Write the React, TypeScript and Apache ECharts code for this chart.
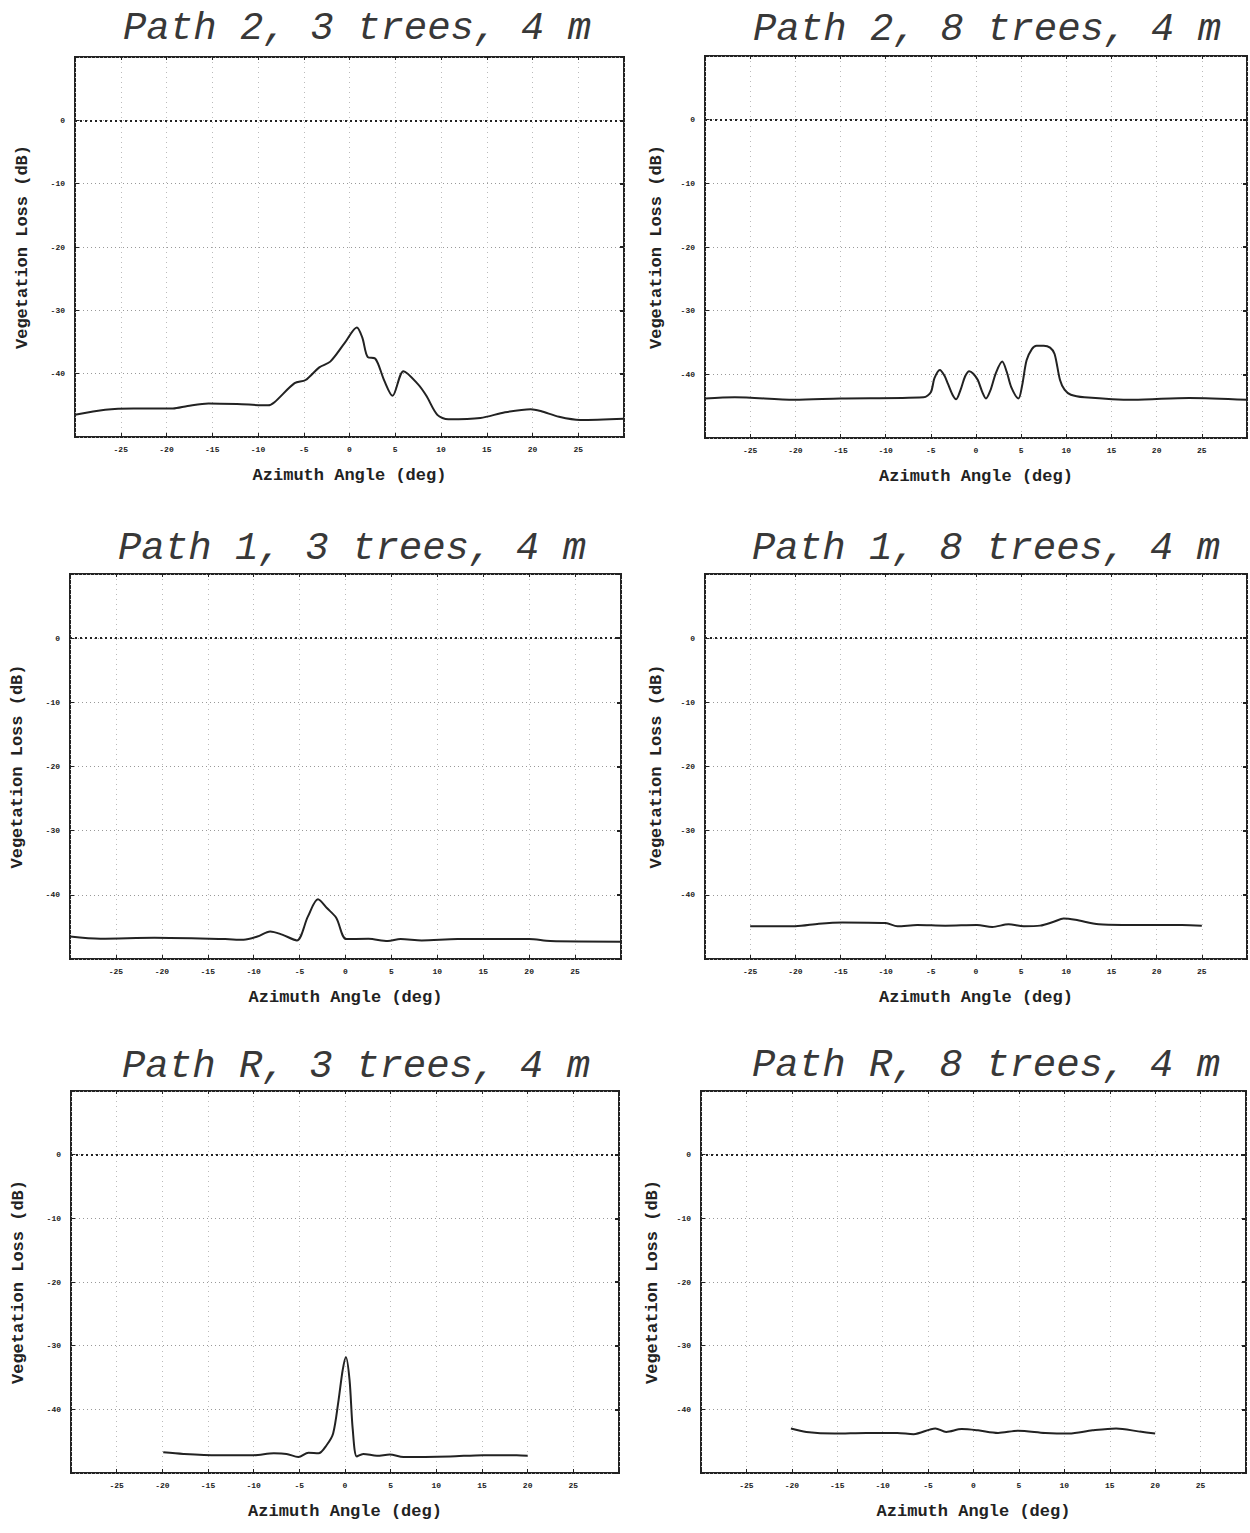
import { useEffect, useRef } from "react";
import * as echarts from "echarts";

// ---- Titles ----
const titles = [
  "Path 2, 3 trees, 4 m",
  "Path 2, 8 trees, 4 m",
  "Path 1, 3 trees, 4 m",
  "Path 1, 8 trees, 4 m",
  "Path R, 3 trees, 4 m",
  "Path R, 8 trees, 4 m",
];

// ---- Axis ticks ----
const xTickMin = -30;
const xTickMax = 30;
const xTickStep = 5;
const yTickMin = -50;
const yTickMax = 10;
const yTickStep = 10;
const xAxisName = "Azimuth Angle (deg)";
const yAxisName = "Vegetation Loss (dB)";
const referenceLevel = 0;

// ---- Series data (azimuth deg, loss dB) ----
const p2t3X = [-30, -26.7, -23.6, -19.3, -17.7, -15.4, -12.3, -8.9, -8.2, -6.0, -4.8, -3.3, -2.1, -0.5, 0.8, 1.4, 2.0, 2.8, 3.8, 4.7, 5.9, 7.5, 8.4, 9.6, 10.8, 14.3, 17.0, 19.8, 20.9, 22.9, 25.2, 30];
const p2t3Y = [-46.5, -45.7, -45.5, -45.5, -45.1, -44.7, -44.8, -45.0, -44.5, -41.5, -41.0, -39.0, -38.1, -35.1, -32.7, -34.3, -37.4, -37.6, -41.1, -43.5, -39.6, -41.7, -43.5, -46.5, -47.2, -47.0, -46.1, -45.6, -45.9, -46.8, -47.3, -47.1];

const p2t8X = [-30, -26.7, -20.1, -15, -5.8, -5.0, -4.6, -4.0, -3.5, -3.1, -2.6, -2.2, -1.7, -1.2, -0.75, -0.3, 0.2, 0.7, 1.1, 1.6, 2.2, 2.9, 3.4, 3.9, 4.7, 5.1, 5.6, 6.2, 6.7, 7.5, 8.2, 8.7, 9.3, 9.8, 10.5, 12.0, 17.4, 23.6, 30];
const p2t8Y = [-43.8, -43.6, -44.0, -43.8, -43.6, -42.8, -40.6, -39.3, -40.2, -41.5, -43.2, -43.9, -42.4, -40.3, -39.5, -39.9, -40.9, -42.8, -43.8, -42.5, -39.8, -38.0, -39.6, -42.0, -43.8, -41.8, -37.8, -36.0, -35.5, -35.5, -35.8, -36.8, -40.9, -42.4, -43.2, -43.6, -44.0, -43.7, -44.0];

const p1t3X = [-30, -26.7, -20.8, -13.1, -11.1, -9.6, -8.2, -6.9, -5.3, -4.1, -3.0, -2.0, -1.0, 0.1, 2.5, 4.6, 6.0, 8.3, 12.2, 20.0, 22.3, 30];
const p1t3Y = [-46.5, -46.85, -46.7, -46.9, -47.0, -46.5, -45.7, -46.2, -47.1, -43.4, -40.7, -42.1, -43.6, -46.9, -46.85, -47.2, -46.9, -47.1, -46.9, -46.9, -47.2, -47.3];

const p1t8X = [-25, -20, -17.4, -14.8, -10, -8.7, -6.5, -3.4, 0.1, 1.8, 3.6, 5.3, 7.1, 8.6, 9.7, 11.0, 13.6, 16.2, 22.8, 25];
const p1t8Y = [-44.9, -44.9, -44.5, -44.3, -44.4, -44.9, -44.7, -44.8, -44.7, -45.0, -44.6, -44.9, -44.8, -44.2, -43.7, -43.9, -44.6, -44.7, -44.7, -44.8];

const pRt3X = [-19.9, -17.7, -14.0, -10.0, -7.8, -6.4, -5.1, -4.0, -2.9, -2.0, -1.3, -0.7, -0.25, 0.1, 0.5, 0.85, 1.3, 2.0, 3.5, 4.9, 6.4, 11.5, 15.1, 18.8, 20.0];
const pRt3Y = [-46.75, -47.0, -47.2, -47.2, -46.9, -47.0, -47.5, -46.8, -46.9, -45.6, -43.8, -38.5, -33.8, -31.8, -35.4, -43.2, -47.4, -47.0, -47.3, -47.1, -47.5, -47.4, -47.2, -47.2, -47.3];

const pRt8X = [-20.1, -18.4, -15.3, -11.8, -8.4, -6.6, -4.2, -3.0, -1.3, 0.5, 2.7, 4.9, 7.9, 10.5, 13.1, 15.7, 18.3, 20];
const pRt8Y = [-43.0, -43.55, -43.8, -43.7, -43.7, -43.9, -43.0, -43.55, -43.1, -43.3, -43.7, -43.35, -43.7, -43.8, -43.3, -43.0, -43.5, -43.8];

const seriesX = [p2t3X, p2t8X, p1t3X, p1t8X, pRt3X, pRt8X];
const seriesY = [p2t3Y, p2t8Y, p1t3Y, p1t8Y, pRt3Y, pRt8Y];

// ---- Layout (pixels) ----
const layout = [
  { left: 75, top: 57, width: 549, height: 380, tx: 357, ty: 29, gap: 44 },
  { left: 705, top: 56, width: 544, height: 382, tx: 987, ty: 30, gap: 40 },
  { left: 70, top: 574, width: 551, height: 385, tx: 352, ty: 549, gap: 44 },
  { left: 705, top: 574, width: 544, height: 385, tx: 986, ty: 549, gap: 40 },
  { left: 71, top: 1091, width: 548, height: 382, tx: 356, ty: 1067, gap: 44 },
  { left: 701, top: 1091, width: 545, height: 382, tx: 986, ty: 1066, gap: 40 },
];

const MONO = '"Liberation Mono", "DejaVu Sans Mono", monospace';
const INK = "#222";

export default function App() {
  const ref = useRef<HTMLDivElement>(null);

  useEffect(() => {
    if (!ref.current) return;
    const chart = echarts.init(ref.current, undefined, { renderer: "svg" });

    const grid: any[] = [];
    const xAxis: any[] = [];
    const yAxis: any[] = [];
    const series: any[] = [];
    const graphic: any[] = [];

    layout.forEach((L, i) => {
      grid.push({
        left: L.left,
        top: L.top,
        width: L.width,
        height: L.height,
        show: true,
        borderColor: INK,
        borderWidth: 2,
        backgroundColor: "transparent",
      });
      xAxis.push({
        type: "value",
        gridIndex: i,
        min: xTickMin,
        max: xTickMax,
        interval: xTickStep,
        position: "bottom",
        name: xAxisName,
        nameLocation: "middle",
        nameGap: 30,
        nameTextStyle: { fontFamily: MONO, fontWeight: "bold", fontSize: 17, color: INK },
        axisLine: { show: false, onZero: false },
        axisTick: { show: true, inside: true, length: 4, lineStyle: { color: INK } },
        axisLabel: {
          fontFamily: MONO,
          fontWeight: "bold",
          fontSize: 8,
          color: INK,
          margin: 8,
          formatter: (v: number) => (v <= xTickMin || v >= xTickMax ? "" : String(v)),
        },
        splitLine: { show: true, lineStyle: { color: "#bbb", type: [1, 4], width: 1 } },
      });
      xAxis.push({
        type: "value",
        gridIndex: i,
        min: xTickMin,
        max: xTickMax,
        interval: xTickStep,
        position: "top",
        axisLine: { show: false, onZero: false },
        axisTick: { show: true, inside: true, length: 3, lineStyle: { color: INK } },
        axisLabel: { show: false },
        splitLine: { show: false },
      });
      yAxis.push({
        type: "value",
        gridIndex: i,
        min: yTickMin,
        max: yTickMax,
        interval: yTickStep,
        position: "left",
        name: yAxisName,
        nameLocation: "middle",
        nameGap: L.gap,
        nameRotate: 90,
        nameTextStyle: { fontFamily: MONO, fontWeight: "bold", fontSize: 17, color: INK },
        axisLine: { show: false, onZero: false },
        axisTick: { show: true, inside: true, length: 4, lineStyle: { color: INK } },
        axisLabel: {
          fontFamily: MONO,
          fontWeight: "bold",
          fontSize: 8,
          color: INK,
          margin: 10,
          padding: [0, 0, 8, 0],
          formatter: (v: number) => (v <= yTickMin || v >= yTickMax ? "" : String(v)),
        },
        splitLine: { show: true, lineStyle: { color: "#999", type: [1, 3], width: 1 } },
      });
      yAxis.push({
        type: "value",
        gridIndex: i,
        min: yTickMin,
        max: yTickMax,
        interval: yTickStep,
        position: "right",
        axisLine: { show: false, onZero: false },
        axisTick: { show: true, inside: true, length: 4, lineStyle: { color: INK, width: 2 } },
        axisLabel: { show: false },
        splitLine: { show: false },
      });
      const xs = seriesX[i];
      const ys = seriesY[i];
      series.push({
        type: "line",
        xAxisIndex: 2 * i,
        yAxisIndex: 2 * i,
        data: xs.map((x, k) => [x, ys[k]]),
        showSymbol: false,
        symbol: "none",
        smooth: 0.3,
        lineStyle: { color: INK, width: 2 },
        markLine: {
          silent: true,
          symbol: "none",
          label: { show: false },
          lineStyle: { color: "#222", type: [2, 3], width: 2 },
          data: [{ yAxis: referenceLevel }],
        },
      });
      graphic.push({
        type: "text",
        x: L.tx,
        y: L.ty,
        style: {
          text: titles[i],
          fontFamily: MONO,
          fontStyle: "italic",
          fontSize: 39,
          fill: "#383838",
          align: "center",
          verticalAlign: "middle",
        },
      });
    });

    chart.setOption({
      animation: false,
      backgroundColor: "#ffffff",
      grid,
      xAxis,
      yAxis,
      series,
      graphic,
    });

    return () => chart.dispose();
  }, []);

  return (
    <div
      ref={ref}
      style={{ position: "absolute", left: 0, top: 0, width: 1250, height: 1533 }}
    />
  );
}
